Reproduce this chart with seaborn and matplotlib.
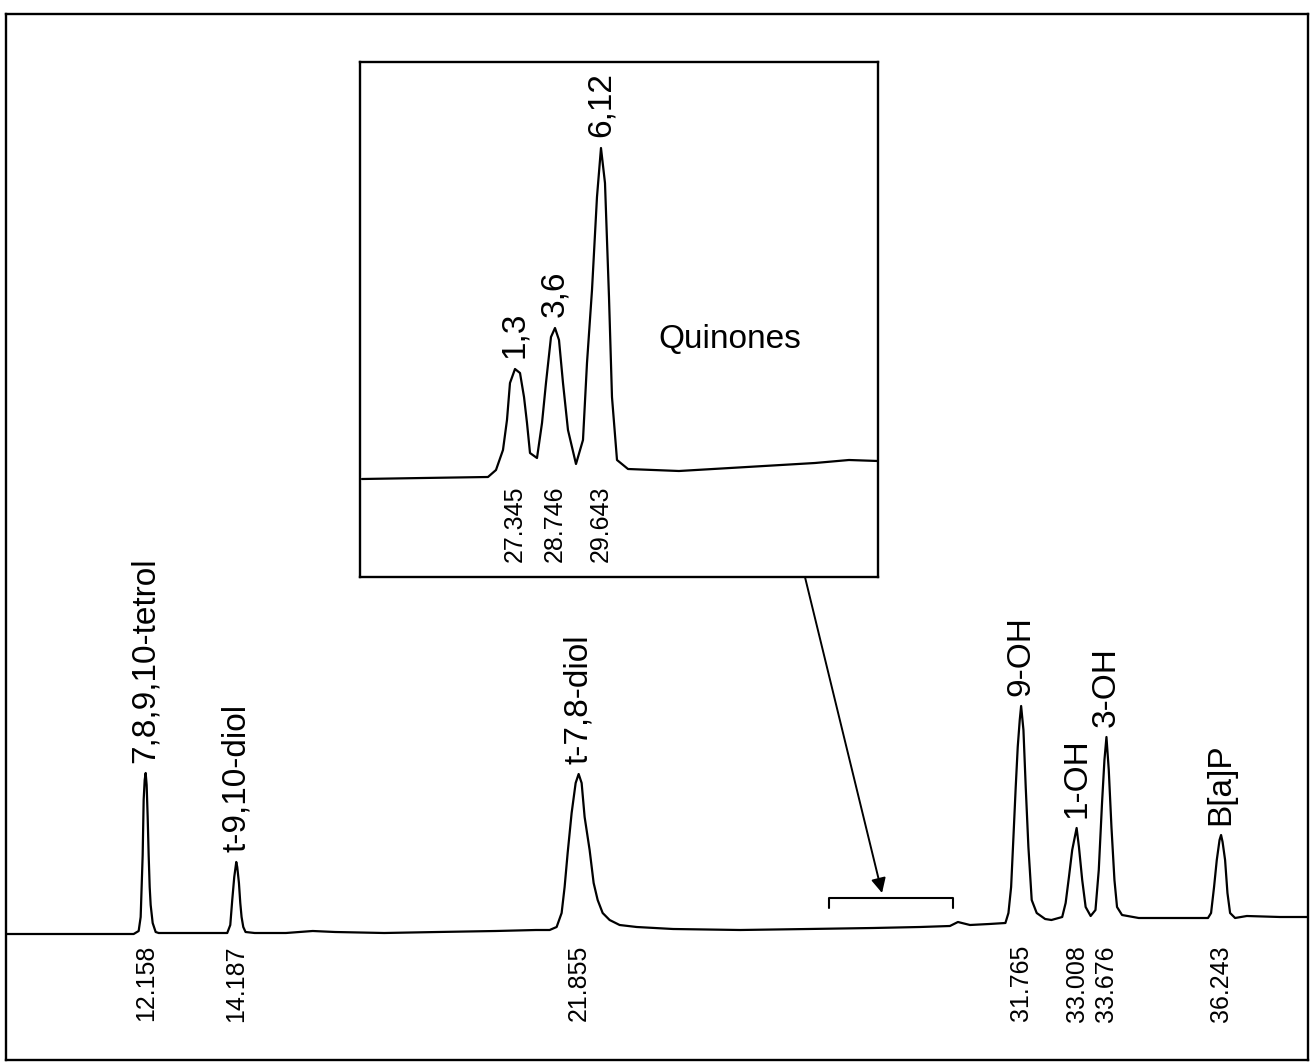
import matplotlib
matplotlib.use("Agg")
import matplotlib.pyplot as plt
import numpy as np
import pandas as pd
import seaborn as sns

# ---------------- data ----------------
# main chromatogram trace: retention time (min) and detector signal (arb. units)
main_time = [
    9.03, 10.5, 11.5, 11.889, 12.001, 12.046, 12.091, 12.113, 12.136, 12.158,
    12.180, 12.203, 12.225, 12.248, 12.270, 12.315, 12.382, 12.449,
    13.2, 13.9, 13.985, 14.053, 14.097, 14.142, 14.187, 14.209, 14.247, 14.277,
    14.306, 14.344, 14.395,
    14.6, 15.3, 15.9, 16.4, 17.5, 18.7, 20.0, 20.9,
    21.205, 21.362, 21.474, 21.541, 21.609, 21.698, 21.788, 21.855, 21.922,
    21.989, 22.101, 22.191, 22.281, 22.393, 22.549, 22.773, 23.154,
    23.97, 25.47, 27.0, 28.45, 29.5, 30.17, 30.35, 30.62, 31.05, 31.413,
    31.481, 31.541, 31.593, 31.644, 31.689, 31.734, 31.765, 31.817, 31.868,
    31.928, 32.002, 32.114, 32.303, 32.444,
    32.685, 32.762, 32.836, 32.909, 33.008, 33.060, 33.133, 33.210, 33.322,
    33.430, 33.504, 33.577, 33.631, 33.676, 33.728, 33.788, 33.855, 33.913,
    34.025, 34.399,
    35.0, 35.70, 35.95,
    36.019, 36.086, 36.147, 36.209, 36.243, 36.277, 36.333, 36.386, 36.445,
    36.557,
    36.82, 37.56, 38.19,
]
main_signal = [
    1, 1, 1, 1, 4, 18, 80, 135, 155, 162,
    150, 118, 80, 48, 30, 12, 3, 2,
    2, 2, 2, 10, 35, 58, 73, 68, 52, 32,
    18, 8, 3,
    2, 2, 4, 3, 2, 3, 4, 5,
    5, 8, 22, 48, 82, 122, 152, 161, 152,
    118, 85, 52, 35, 22, 15, 10, 8,
    6, 5, 6, 7, 8, 9, 13, 10, 11, 12,
    22, 48, 98, 148, 188, 215, 229, 205, 148,
    88, 35, 22, 16, 15,
    18, 32, 58, 85, 107, 88, 55, 28, 19,
    25, 65, 132, 175, 198, 165, 108, 55, 28,
    20, 17,
    17, 17, 17,
    22, 48, 75, 95, 100, 93, 75, 42, 22,
    17,
    19, 18, 18,
]

# labelled peaks of the main trace
main_peak_times = [12.158, 14.187, 21.855, 31.765, 33.008, 33.676, 36.243]
main_peak_signal = [162, 73, 161, 229, 107, 198, 100]
main_peak_names = ["7,8,9,10-tetrol", "t-9,10-diol", "t-7,8-diol",
                   "9-OH", "1-OH", "3-OH", "B[a]P"]
main_peak_labels = ["12.158", "14.187", "21.855", "31.765",
                    "33.008", "33.676", "36.243"]

# inset (quinone region) trace
inset_time = [
    23.256, 24.886, 26.623, 26.837, 27.024, 27.131, 27.211, 27.345, 27.479,
    27.586, 27.666, 27.746, 27.933, 28.067, 28.173, 28.307, 28.414, 28.521,
    28.628, 28.761, 28.975, 29.162, 29.269, 29.403, 29.536, 29.643, 29.750,
    29.857, 29.937, 30.071, 30.365, 31.728, 33.545, 35.362, 36.271, 37.046,
]
inset_signal = [
    1, 2, 3, 10, 30, 60, 97, 111, 107,
    83, 57, 27, 22, 57, 97, 143, 152, 140,
    97, 50, 16, 40, 117, 190, 283, 332, 297,
    183, 83, 20, 11, 9, 13, 17, 20, 19,
]
inset_peak_pos = [27.345, 28.414, 29.643]
inset_peak_signal = [111, 152, 332]
inset_peak_names = ["1,3", "3,6", "6,12"]
inset_peak_labels = ["27.345", "28.746", "29.643"]
inset_title = "Quinones"

# bracket marking the zoomed region on the main trace
bracket_start, bracket_end = 27.46, 30.24
bracket_level, bracket_leg = 37, 27
arrow_target = (28.65, 42)

# ---------------- styling ----------------
sns.set_theme(style="white")
plt.rcParams["font.family"] = ["Liberation Sans", "DejaVu Sans"]

W, H = 1312, 1064
fig = plt.figure(figsize=(W / 100, H / 100), dpi=100)
fig.patch.set_facecolor("white")

ax = fig.add_axes([6 / W, 4 / H, 1302 / W, 1046 / H])
main_df = pd.DataFrame({"time": main_time, "signal": main_signal})
sns.lineplot(data=main_df, x="time", y="signal", ax=ax, color="black",
             linewidth=1.6, sort=False, estimator=None)
ax.set_xlim(9.03, 38.19)
ax.set_ylim(-125, 921)
ax.set_xticks([])
ax.set_yticks([])
ax.set_xlabel("")
ax.set_ylabel("")
for sp in ax.spines.values():
    sp.set_visible(True)
    sp.set_color("black")
    sp.set_linewidth(1.7)

name_fs = 24
num_fs = 18

for t, h, nm in zip(main_peak_times, main_peak_signal, main_peak_names):
    ax.annotate(nm, xy=(t, h), xytext=(0, 7), textcoords="offset points",
                rotation=90, ha="center", va="bottom", fontsize=name_fs,
                color="black")
for t, lab in zip(main_peak_times, main_peak_labels):
    ax.text(t, -10, lab, rotation=90, ha="center", va="top",
            fontsize=num_fs, color="black")

# bracket
ax.plot([bracket_start, bracket_start, bracket_end, bracket_end],
        [bracket_leg, bracket_level, bracket_level, bracket_leg],
        color="black", linewidth=1.5)

# inset
axin = fig.add_axes([360 / W, (H - 577) / H, 518 / W, 515 / H])
axin.set_zorder(3)
axin.set_facecolor("white")
inset_df = pd.DataFrame({"time": inset_time, "signal": inset_signal})
sns.lineplot(data=inset_df, x="time", y="signal", ax=axin, color="black",
             linewidth=1.6, sort=False, estimator=None)
axin.set_xlim(23.203, 37.046)
axin.set_ylim(-97, 418)
axin.set_xticks([])
axin.set_yticks([])
axin.set_xlabel("")
axin.set_ylabel("")
for sp in axin.spines.values():
    sp.set_visible(True)
    sp.set_color("black")
    sp.set_linewidth(1.7)

for t, h, nm in zip(inset_peak_pos, inset_peak_signal, inset_peak_names):
    axin.annotate(nm, xy=(t, h), xytext=(0, 8), textcoords="offset points",
                  rotation=90, ha="center", va="bottom", fontsize=name_fs,
                  color="black")
for t, lab in zip(inset_peak_pos, inset_peak_labels):
    axin.text(t, -5, lab, rotation=90, ha="center", va="top",
              fontsize=num_fs, color="black")
axin.text(33.09, 140, inset_title, ha="center", va="center",
          fontsize=24, color="black")

# arrow from inset to bracket
ax.annotate("", xy=arrow_target, xycoords="data",
            xytext=(0.859, 0.0), textcoords=axin.transAxes,
            arrowprops=dict(arrowstyle="-|>", color="black", lw=1.4,
                            mutation_scale=22, shrinkA=0, shrinkB=0),
            annotation_clip=False)

fig.savefig("out.png", dpi=100, facecolor="white")
